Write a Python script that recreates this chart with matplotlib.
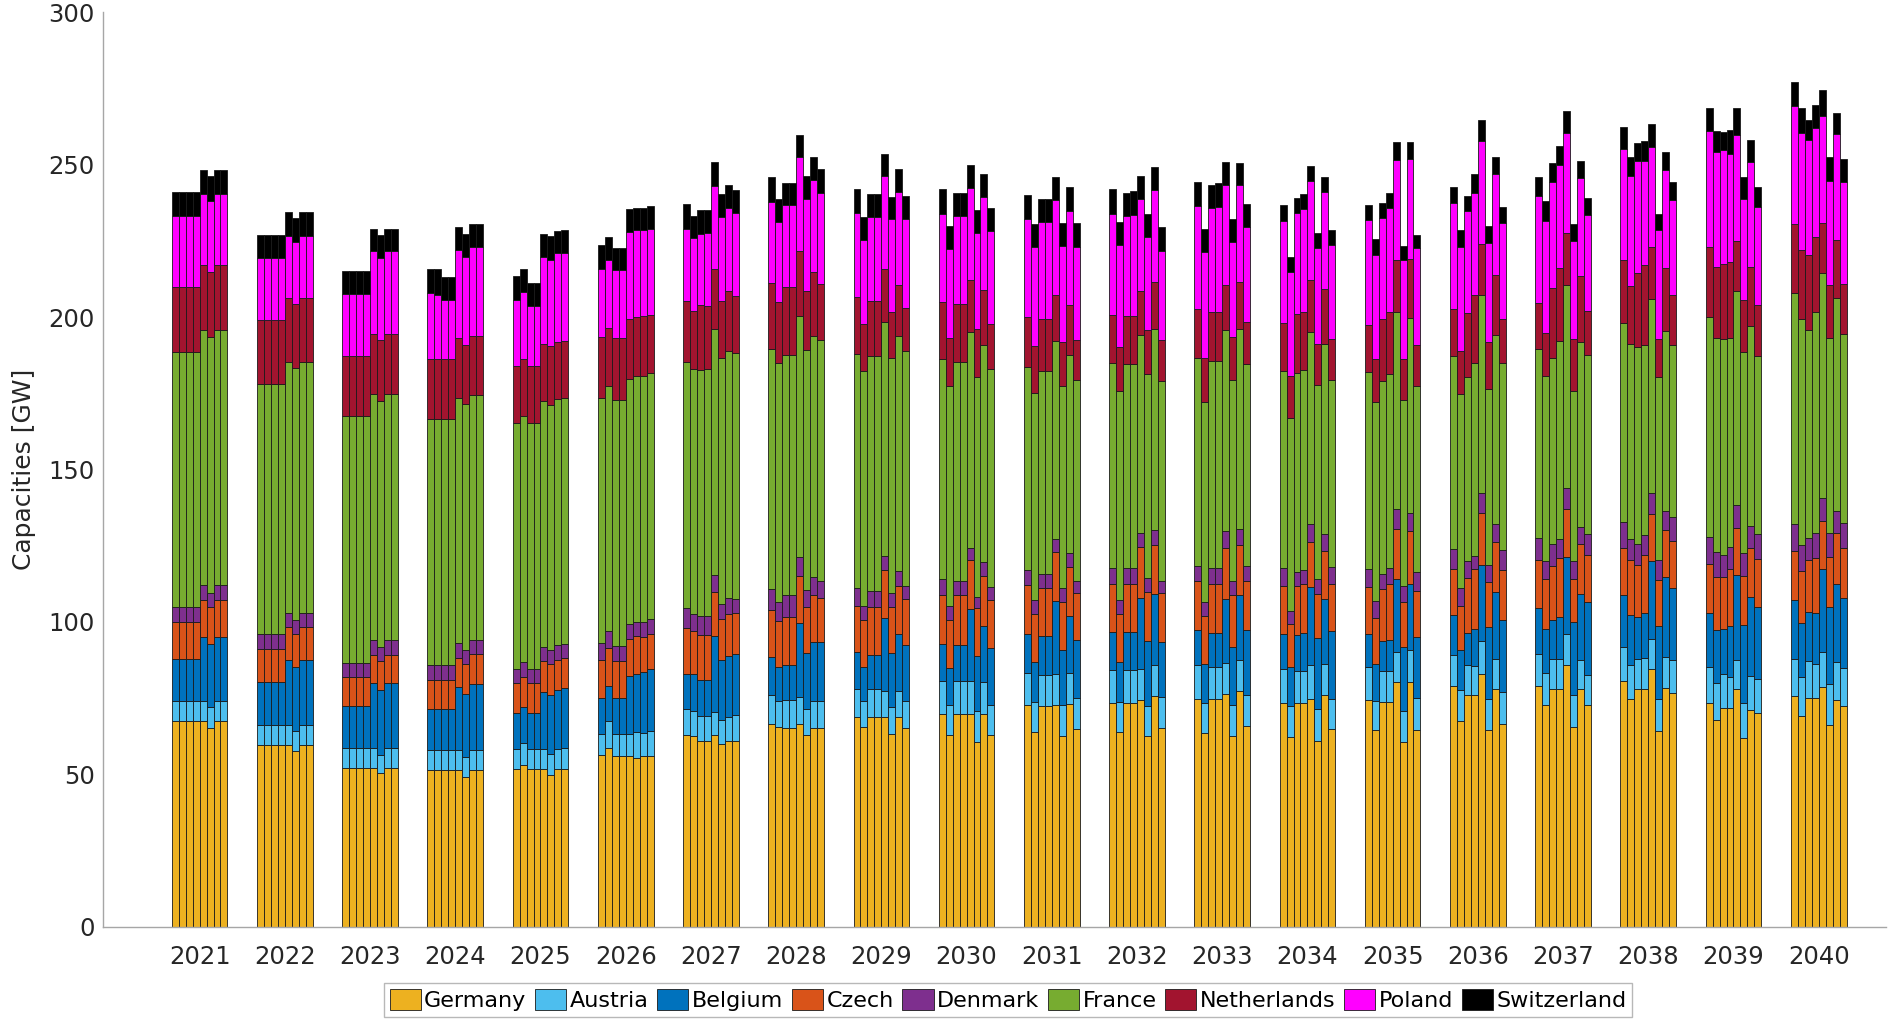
import matplotlib
matplotlib.use("Agg")
import matplotlib.pyplot as plt
from matplotlib.patches import Patch
import numpy as np

years = [str(y) for y in range(2021, 2041)]
countries = ["Germany", "Austria", "Belgium", "Czech", "Denmark", "France",
             "Netherlands", "Poland", "Switzerland"]
colors = ["#EDB120", "#4DBEEE", "#0072BD", "#D95319", "#7E2F8E", "#77AC30",
          "#A2142F", "#FF00FF", "#000000"]

germany = [
    [67.5, 67.5, 67.5, 67.5, 67.5, 65.2, 67.5, 67.5],
    [59.7, 59.7, 59.7, 59.7, 59.7, 57.6, 59.7, 59.7],
    [52.2, 52.2, 52.2, 52.2, 52.2, 50.4, 52.2, 52.2],
    [51.5, 51.5, 51.5, 51.5, 51.5, 49.2, 51.5, 51.5],
    [51.8, 53.0, 51.8, 51.8, 51.8, 49.9, 51.8, 51.8],
    [56.4, 58.8, 56.2, 56.2, 56.2, 55.3, 56.2, 56.2],
    [62.9, 62.6, 60.9, 60.9, 62.9, 59.9, 60.9, 60.9],
    [66.7, 65.5, 65.1, 65.1, 66.7, 62.9, 65.1, 65.1],
    [68.7, 65.5, 68.7, 68.7, 68.7, 63.2, 68.7, 65.1],
    [69.8, 62.9, 69.8, 69.8, 69.8, 60.6, 69.8, 62.9],
    [72.7, 64.0, 72.4, 72.4, 72.7, 62.6, 73.1, 64.9],
    [73.3, 64.0, 73.6, 73.6, 74.4, 62.6, 75.8, 65.2],
    [74.7, 63.7, 74.7, 74.7, 76.4, 62.6, 77.3, 66.0],
    [73.3, 62.2, 73.3, 73.3, 74.8, 61.1, 75.9, 64.8],
    [74.4, 64.5, 73.9, 73.9, 80.2, 60.6, 80.2, 64.5],
    [79.0, 67.5, 75.9, 75.9, 82.8, 64.5, 77.9, 66.7],
    [79.0, 72.8, 77.9, 77.9, 85.8, 65.5, 77.9, 72.8],
    [80.8, 74.7, 77.9, 77.9, 84.6, 64.2, 78.5, 76.7],
    [73.6, 67.8, 71.8, 71.8, 77.9, 61.9, 71.3, 70.1],
    [75.6, 69.3, 75.1, 75.1, 78.7, 66.3, 74.4, 72.5],
]
austria = [
    [6.6, 6.6, 6.6, 6.6, 6.6, 6.9, 6.6, 6.6],
    [6.6, 6.6, 6.6, 6.6, 6.6, 6.7, 6.6, 6.6],
    [6.6, 6.6, 6.6, 6.6, 6.6, 6.1, 6.6, 6.6],
    [6.4, 6.4, 6.4, 6.4, 6.4, 6.4, 6.4, 6.4],
    [6.6, 7.2, 6.6, 6.6, 6.6, 6.9, 6.6, 6.9],
    [7.0, 8.7, 7.0, 7.0, 7.0, 8.7, 7.3, 8.2],
    [8.7, 8.2, 8.4, 8.4, 7.6, 8.1, 7.8, 8.7],
    [9.5, 8.7, 9.2, 9.2, 8.7, 8.7, 8.9, 8.9],
    [9.2, 8.5, 9.2, 9.2, 8.7, 8.9, 8.7, 8.9],
    [11.0, 9.9, 10.7, 10.7, 10.7, 10.2, 10.4, 9.9],
    [10.7, 9.9, 10.1, 10.1, 10.1, 10.2, 10.1, 10.2],
    [11.0, 9.9, 10.7, 10.7, 10.2, 9.9, 10.1, 10.2],
    [11.1, 9.9, 10.7, 10.7, 10.2, 10.2, 10.4, 10.2],
    [11.3, 10.2, 10.7, 10.7, 11.0, 10.4, 10.4, 10.1],
    [10.7, 9.5, 10.1, 10.1, 9.8, 10.2, 10.5, 10.7],
    [10.2, 10.2, 9.9, 9.6, 11.0, 10.2, 9.9, 10.4],
    [10.4, 10.4, 10.0, 10.0, 10.2, 10.7, 9.5, 9.9],
    [11.1, 11.1, 9.9, 10.2, 9.9, 10.5, 10.1, 10.7],
    [11.5, 12.2, 11.0, 10.2, 9.8, 11.5, 11.1, 11.1],
    [12.2, 12.7, 12.2, 11.1, 11.5, 13.4, 12.5, 12.5],
]
belgium = [
    [13.7, 13.7, 13.7, 13.7, 20.9, 20.6, 20.9, 20.9],
    [13.9, 13.9, 13.9, 13.9, 21.1, 20.9, 21.1, 21.1],
    [13.7, 13.7, 13.7, 13.7, 21.2, 21.1, 21.2, 21.2],
    [13.7, 13.7, 13.7, 13.7, 20.8, 20.9, 21.7, 21.7],
    [11.6, 11.9, 11.6, 11.6, 18.8, 19.4, 19.4, 19.5],
    [11.8, 11.6, 11.9, 11.9, 19.2, 19.1, 20.2, 20.2],
    [11.5, 12.2, 11.6, 11.6, 24.9, 19.4, 20.2, 19.8],
    [12.2, 11.1, 11.6, 11.6, 24.4, 18.3, 19.5, 19.5],
    [12.1, 11.3, 11.3, 11.3, 24.0, 17.6, 18.8, 18.6],
    [11.9, 12.2, 11.9, 11.9, 23.7, 18.0, 18.6, 18.8],
    [12.8, 13.0, 12.8, 12.8, 24.0, 17.9, 18.9, 19.1],
    [12.5, 13.0, 12.5, 12.5, 23.4, 21.2, 23.2, 18.0],
    [11.5, 12.5, 11.1, 11.1, 20.9, 19.1, 21.1, 21.1],
    [11.6, 12.7, 11.8, 12.5, 25.6, 23.2, 21.2, 22.0],
    [11.0, 12.2, 9.8, 10.2, 24.1, 21.1, 21.8, 19.8],
    [13.1, 13.0, 10.7, 12.2, 24.9, 23.7, 22.0, 23.5],
    [15.1, 14.5, 12.7, 13.7, 25.2, 23.8, 21.7, 23.7],
    [16.8, 16.5, 14.0, 15.0, 25.6, 24.1, 26.3, 23.7],
    [18.0, 17.3, 14.8, 16.8, 27.6, 25.5, 25.8, 23.7],
    [19.4, 17.6, 16.0, 16.6, 27.3, 25.2, 25.6, 22.9],
]
czech = [
    [12.2, 12.2, 12.2, 12.2, 12.2, 12.2, 12.2, 12.2],
    [11.0, 11.0, 11.0, 11.0, 11.0, 11.0, 11.0, 11.0],
    [9.5, 9.5, 9.5, 9.5, 9.3, 9.5, 9.3, 9.3],
    [9.5, 9.5, 9.5, 9.5, 9.6, 9.6, 9.8, 9.8],
    [10.1, 9.9, 10.1, 10.1, 9.9, 9.9, 9.9, 9.9],
    [12.4, 12.4, 12.2, 12.2, 12.1, 12.2, 11.3, 11.3],
    [15.0, 14.2, 14.8, 14.7, 14.4, 13.7, 13.7, 13.4],
    [15.4, 15.0, 15.6, 15.6, 15.4, 15.0, 15.3, 14.5],
    [15.4, 15.3, 15.6, 15.6, 15.7, 15.3, 15.6, 15.0],
    [16.3, 15.6, 16.3, 16.3, 16.0, 15.7, 16.3, 15.6],
    [15.9, 15.7, 16.0, 16.0, 16.0, 15.7, 16.0, 15.3],
    [15.7, 15.7, 15.7, 15.7, 16.5, 16.0, 16.2, 16.0],
    [16.0, 16.0, 16.0, 16.0, 16.9, 16.8, 16.5, 16.0],
    [15.6, 14.2, 16.0, 16.0, 14.8, 14.5, 15.7, 15.7],
    [15.3, 15.0, 16.9, 18.3, 16.3, 14.5, 17.3, 15.0],
    [15.1, 14.7, 18.0, 19.8, 17.1, 14.7, 16.5, 16.5],
    [15.7, 16.3, 17.7, 19.4, 16.0, 14.0, 16.5, 15.7],
    [15.6, 17.9, 16.8, 18.9, 15.3, 15.0, 15.3, 15.3],
    [16.0, 17.6, 17.3, 18.6, 15.6, 16.3, 16.0, 15.7],
    [16.0, 17.1, 17.1, 18.3, 15.7, 16.3, 16.8, 16.5],
]
denmark = [
    [4.9, 4.9, 4.9, 4.9, 4.9, 4.6, 4.9, 4.9],
    [4.7, 4.7, 4.7, 4.7, 4.7, 4.6, 4.7, 4.7],
    [4.7, 4.7, 4.7, 4.7, 4.7, 4.6, 4.7, 4.7],
    [4.7, 4.7, 4.7, 4.7, 4.7, 4.7, 4.7, 4.7],
    [4.6, 4.9, 4.6, 4.6, 4.6, 4.6, 4.6, 4.6],
    [5.5, 5.5, 4.9, 4.9, 4.7, 4.7, 4.9, 5.2],
    [6.4, 5.3, 6.4, 6.3, 5.5, 4.9, 5.3, 4.6],
    [6.9, 6.1, 7.3, 7.3, 6.1, 5.6, 6.1, 5.6],
    [5.8, 4.7, 5.5, 5.5, 4.6, 4.6, 5.0, 4.3],
    [5.0, 4.7, 4.9, 4.9, 4.1, 3.7, 4.6, 4.3],
    [5.0, 4.6, 4.6, 4.6, 4.3, 4.6, 4.6, 4.1],
    [5.3, 4.6, 5.3, 5.3, 4.6, 4.7, 4.9, 4.1],
    [5.2, 4.6, 5.3, 5.3, 5.3, 4.6, 5.2, 5.0],
    [5.8, 4.4, 4.6, 4.6, 5.8, 4.9, 5.6, 5.3],
    [6.1, 5.6, 4.9, 5.3, 6.6, 5.3, 6.1, 6.4],
    [6.6, 5.6, 5.6, 4.1, 6.6, 5.6, 5.8, 6.6],
    [7.2, 6.1, 7.2, 6.1, 6.9, 6.1, 5.6, 6.7],
    [8.5, 6.9, 6.9, 6.6, 6.9, 6.4, 6.1, 7.9],
    [8.7, 8.1, 7.2, 7.3, 7.6, 7.3, 7.3, 8.4],
    [8.9, 8.5, 7.0, 8.1, 7.6, 8.1, 7.2, 8.2],
]
france = [
    [83.5, 83.5, 83.5, 83.5, 83.5, 84.0, 83.5, 83.5],
    [82.3, 82.3, 82.3, 82.3, 82.0, 82.4, 82.0, 82.0],
    [80.8, 80.8, 80.8, 80.8, 80.8, 80.8, 80.8, 80.8],
    [80.6, 80.6, 80.6, 80.6, 80.5, 80.6, 80.3, 80.3],
    [80.6, 80.6, 80.6, 80.6, 80.6, 80.6, 80.8, 80.8],
    [80.5, 80.5, 80.6, 80.6, 80.6, 80.5, 80.8, 80.5],
    [80.6, 80.6, 80.6, 80.9, 80.8, 80.6, 80.8, 80.9],
    [78.8, 78.6, 78.8, 78.8, 79.1, 78.8, 78.8, 78.8],
    [76.8, 77.1, 76.9, 76.9, 76.8, 76.9, 76.9, 76.9],
    [72.2, 72.1, 71.8, 71.8, 70.7, 72.2, 71.0, 71.3],
    [66.4, 67.9, 66.4, 66.4, 64.9, 66.4, 64.9, 65.6],
    [67.2, 68.4, 66.9, 66.9, 64.9, 67.0, 66.0, 65.6],
    [68.1, 65.3, 67.8, 67.8, 66.0, 66.1, 65.6, 66.3],
    [64.7, 63.1, 65.3, 65.6, 63.2, 63.7, 62.3, 61.4],
    [64.6, 65.3, 63.4, 63.4, 64.6, 61.1, 63.7, 61.1],
    [63.1, 63.8, 60.3, 63.4, 64.9, 57.7, 62.1, 61.1],
    [62.0, 60.6, 61.1, 65.2, 66.4, 55.7, 60.5, 58.8],
    [65.2, 64.1, 64.6, 62.3, 63.7, 60.0, 59.2, 56.5],
    [72.1, 70.2, 70.7, 68.5, 69.9, 66.1, 65.6, 58.2],
    [75.9, 74.0, 68.5, 72.5, 73.7, 63.8, 69.6, 61.8],
]
netherlands = [
    [21.4, 21.4, 21.4, 21.4, 21.5, 21.2, 21.5, 21.5],
    [20.9, 20.9, 20.9, 20.9, 21.1, 21.1, 21.1, 21.1],
    [19.8, 19.8, 19.8, 19.8, 19.7, 20.0, 19.7, 19.7],
    [19.7, 19.7, 19.7, 19.7, 19.7, 19.5, 19.5, 19.5],
    [18.8, 18.8, 18.8, 18.8, 18.9, 19.1, 18.8, 18.8],
    [19.8, 18.8, 20.2, 20.2, 19.5, 19.4, 19.5, 18.9],
    [20.3, 18.9, 21.4, 20.9, 19.7, 18.8, 19.8, 18.5],
    [21.8, 19.8, 22.4, 22.4, 21.2, 19.1, 21.2, 18.3],
    [18.5, 15.3, 18.0, 18.0, 17.1, 15.1, 16.9, 14.0],
    [18.6, 15.7, 18.8, 18.8, 17.1, 15.7, 18.0, 14.8],
    [16.5, 15.4, 16.9, 16.9, 15.3, 14.5, 16.3, 13.4],
    [15.6, 14.5, 15.6, 15.6, 14.5, 14.5, 15.4, 13.4],
    [16.0, 14.5, 16.2, 16.2, 14.8, 14.0, 15.3, 13.9],
    [15.7, 14.0, 19.4, 19.1, 16.9, 13.4, 18.0, 13.4],
    [15.3, 14.0, 20.3, 20.6, 17.1, 13.3, 19.5, 13.4],
    [15.6, 14.0, 20.9, 22.1, 16.8, 15.3, 19.5, 14.4],
    [15.3, 14.2, 22.9, 23.8, 16.9, 17.1, 21.7, 14.5],
    [20.6, 19.1, 24.3, 26.3, 16.8, 12.5, 20.5, 16.5],
    [22.9, 23.2, 24.7, 25.0, 16.6, 17.1, 19.4, 16.6],
    [22.6, 22.7, 24.4, 24.7, 16.3, 17.4, 19.1, 16.5],
]
poland = [
    [23.4, 23.4, 23.4, 23.4, 23.4, 23.5, 23.4, 23.4],
    [20.2, 20.2, 20.2, 20.2, 20.5, 20.3, 20.5, 20.5],
    [20.2, 20.2, 20.2, 20.2, 27.0, 26.9, 27.0, 27.0],
    [21.7, 21.2, 19.5, 19.5, 28.7, 28.7, 28.9, 28.9],
    [21.4, 22.0, 19.4, 19.4, 28.5, 28.2, 29.0, 28.7],
    [22.4, 22.3, 22.3, 22.3, 28.7, 28.5, 28.2, 28.5],
    [23.5, 23.8, 23.2, 23.7, 27.3, 27.5, 27.3, 27.3],
    [26.4, 26.4, 26.6, 26.6, 30.8, 30.4, 30.1, 30.1],
    [27.5, 27.5, 27.6, 27.6, 30.5, 30.5, 30.5, 29.3],
    [29.0, 29.3, 29.0, 29.0, 30.2, 31.3, 30.5, 30.5],
    [32.2, 32.4, 31.9, 31.9, 31.0, 31.3, 31.0, 30.5],
    [33.3, 33.4, 32.8, 33.3, 30.1, 30.2, 30.1, 29.3],
    [33.9, 34.8, 33.9, 34.4, 32.8, 31.3, 31.8, 31.1],
    [33.6, 34.0, 33.1, 33.6, 32.4, 31.3, 31.9, 30.8],
    [34.4, 34.4, 33.1, 34.0, 32.8, 32.5, 32.7, 31.6],
    [34.7, 34.0, 33.3, 33.6, 33.6, 32.7, 33.1, 31.5],
    [35.1, 36.6, 34.8, 33.9, 33.1, 32.1, 32.1, 31.3],
    [36.6, 35.9, 36.6, 33.9, 33.0, 35.9, 32.1, 31.0],
    [38.2, 37.7, 37.4, 35.4, 34.8, 33.1, 34.4, 32.2],
    [38.5, 38.6, 37.6, 35.6, 35.1, 34.0, 34.7, 33.3],
]
switzerland = [
    [7.8, 7.8, 7.8, 7.8, 7.6, 8.2, 7.6, 7.6],
    [7.6, 7.6, 7.6, 7.6, 7.8, 7.8, 7.8, 7.8],
    [7.6, 7.6, 7.6, 7.6, 7.5, 7.6, 7.5, 7.5],
    [7.8, 8.4, 7.6, 7.6, 7.5, 7.5, 7.6, 7.6],
    [7.8, 7.5, 7.6, 7.6, 7.6, 7.9, 7.3, 7.6],
    [7.9, 7.6, 7.3, 7.3, 7.3, 7.3, 7.5, 7.5],
    [8.1, 7.2, 7.8, 7.8, 7.6, 7.5, 7.5, 7.6],
    [8.1, 7.6, 7.3, 7.3, 7.3, 7.5, 7.5, 7.6],
    [8.1, 7.6, 7.5, 7.5, 7.3, 7.3, 7.5, 7.5],
    [8.1, 7.6, 7.6, 7.6, 7.6, 7.8, 7.8, 7.6],
    [7.8, 7.6, 7.6, 7.6, 7.6, 7.6, 7.6, 7.6],
    [8.1, 7.6, 7.6, 7.6, 7.6, 7.6, 7.6, 7.8],
    [7.8, 7.6, 7.6, 7.6, 7.6, 7.6, 7.3, 7.6],
    [5.0, 5.0, 4.9, 4.9, 4.9, 4.9, 5.0, 4.9],
    [4.9, 5.0, 4.9, 4.9, 6.0, 4.6, 5.6, 4.4],
    [5.3, 5.6, 5.0, 6.1, 6.9, 5.5, 5.8, 5.5],
    [6.1, 6.6, 6.1, 6.1, 7.2, 5.5, 5.6, 5.5],
    [7.2, 6.4, 6.1, 6.6, 7.5, 5.3, 6.1, 6.0],
    [7.6, 7.0, 5.8, 7.6, 8.7, 7.0, 7.0, 6.6],
    [7.9, 7.9, 6.7, 7.6, 8.7, 7.9, 6.9, 7.5],
]

series = [germany, austria, belgium, czech, denmark, france,
          netherlands, poland, switzerland]

fig = plt.figure(figsize=(19.02, 10.21), dpi=100)
ax = fig.add_axes([0.0542, 0.0921, 0.9374, 0.8961])

n_years = len(years)
n_sub = 8
w = 0.0816
base_x = np.arange(n_years)
xs = (base_x[:, None] + (np.arange(n_sub)[None, :] - (n_sub - 1) / 2) * w).ravel()

bottom = np.zeros(n_years * n_sub)
for name, col, data in zip(countries, colors, series):
    vals = np.asarray(data, dtype=float).ravel()
    ax.bar(xs, vals, width=w, bottom=bottom, color=col, edgecolor="#1a1a1a",
           linewidth=0.6, label=name)
    bottom = bottom + vals

ax.set_xlim(-1.133, 19.79)
ax.set_ylim(0, 300)
ax.set_xticks(base_x)
ax.set_xticklabels(years)
ax.set_yticks([0, 50, 100, 150, 200, 250, 300])
ax.tick_params(axis="both", length=0, labelsize=17.5, colors="#262626")
ax.tick_params(axis="x", pad=13)
ax.tick_params(axis="y", pad=6)
for s in ["top", "right"]:
    ax.spines[s].set_visible(False)
for s in ["left", "bottom"]:
    ax.spines[s].set_color("#a6a6a6")
    ax.spines[s].set_linewidth(1.0)
ax.set_ylabel("Capacities [GW]", fontsize=18, color="#262626", labelpad=9)

handles = [Patch(facecolor=c, edgecolor="#1a1a1a", linewidth=0.6) for c in colors]
leg = fig.legend(handles, countries, loc="center", bbox_to_anchor=(0.530, 0.0206),
                 ncol=9, fontsize=16, frameon=True, fancybox=False,
                 handlelength=1.4, handleheight=1.1, handletextpad=0.15,
                 columnspacing=0.4, borderpad=0.25, borderaxespad=0.0)
leg.get_frame().set_edgecolor("#a6a6a6")
leg.get_frame().set_linewidth(1.0)

fig.savefig("out.png", dpi=100)
